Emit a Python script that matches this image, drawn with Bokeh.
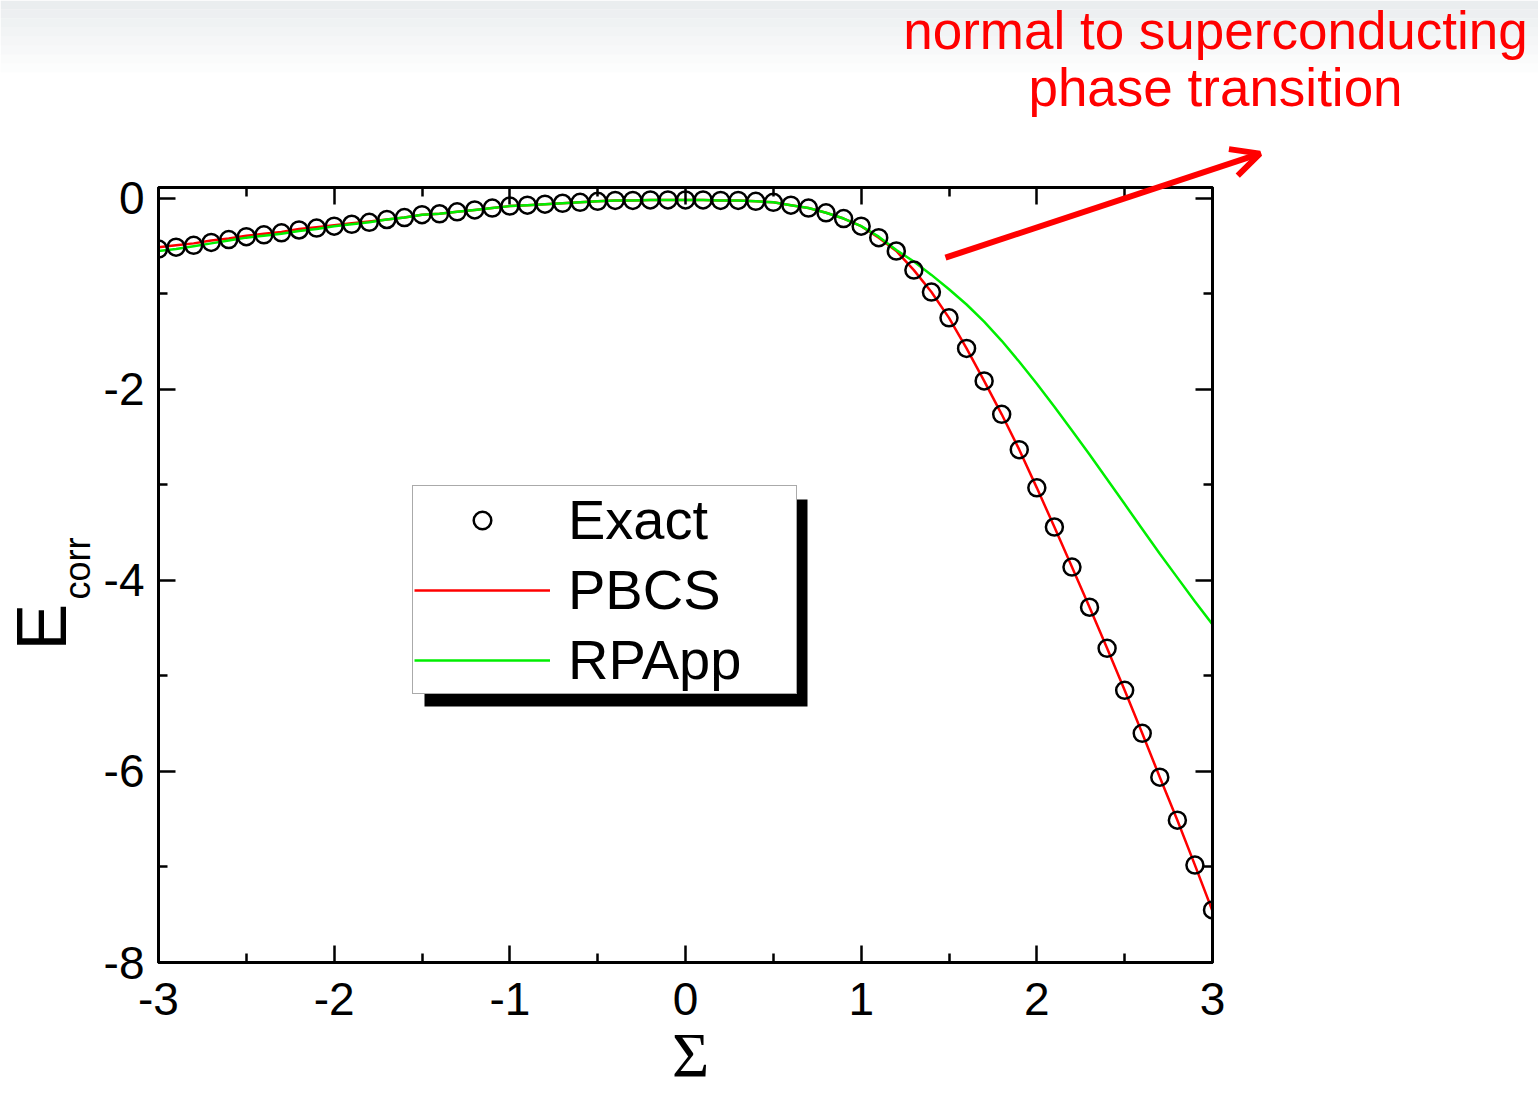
import math

from bokeh.embed import file_html
from bokeh.models import (Arrow, BoxAnnotation, Column, FixedTicker, Label,
                          Legend, LegendItem, LinearAxis, OpenHead, Range1d,
                          Row)
from bokeh.plotting import figure
from bokeh.resources import INLINE

# coupling strength Sigma
sigma = [-3.0, -2.9, -2.8, -2.7, -2.6, -2.5, -2.4, -2.3, -2.2, -2.1,
         -2.0, -1.9, -1.8, -1.7, -1.6, -1.5, -1.4, -1.3, -1.2, -1.1,
         -1.0, -0.9, -0.8, -0.7, -0.6, -0.5, -0.4, -0.3, -0.2, -0.1,
         0.0, 0.1, 0.2, 0.3, 0.4, 0.5, 0.6, 0.7, 0.8, 0.9,
         1.0, 1.1, 1.2, 1.3, 1.4, 1.5, 1.6, 1.7, 1.8, 1.9,
         2.0, 2.1, 2.2, 2.3, 2.4, 2.5, 2.6, 2.7, 2.8, 2.9, 3.0]

# correlation energy: exact solution
e_exact = [-0.53, -0.51, -0.49, -0.46, -0.43, -0.40, -0.38, -0.36, -0.33, -0.31,
           -0.29, -0.27, -0.25, -0.22, -0.20, -0.17, -0.16, -0.14, -0.12, -0.10,
           -0.08, -0.07, -0.06, -0.05, -0.04, -0.03, -0.02, -0.02, -0.015, -0.015,
           -0.015, -0.015, -0.02, -0.02, -0.03, -0.04, -0.07, -0.10, -0.15, -0.21,
           -0.29, -0.41, -0.55, -0.75, -0.98, -1.25, -1.57, -1.91, -2.26, -2.63,
           -3.03, -3.44, -3.86, -4.28, -4.71, -5.15, -5.60, -6.06, -6.51, -6.98, -7.45]

# projected BCS
e_pbcs = [-0.51, -0.49, -0.47, -0.44, -0.42, -0.39, -0.37, -0.35, -0.32, -0.30,
          -0.28, -0.26, -0.24, -0.22, -0.20, -0.17, -0.16, -0.14, -0.12, -0.10,
          -0.08, -0.07, -0.06, -0.05, -0.04, -0.03, -0.02, -0.02, -0.015, -0.015,
          -0.015, -0.015, -0.02, -0.02, -0.03, -0.04, -0.07, -0.10, -0.15, -0.21,
          -0.29, -0.41, -0.55, -0.75, -0.98, -1.25, -1.57, -1.91, -2.26, -2.63,
          -3.03, -3.44, -3.86, -4.28, -4.71, -5.15, -5.60, -6.06, -6.51, -6.98, -7.46]

# particle-particle RPA
e_rpapp = [-0.55, -0.53, -0.50, -0.47, -0.44, -0.41, -0.39, -0.37, -0.34, -0.32,
           -0.29, -0.27, -0.25, -0.22, -0.20, -0.17, -0.16, -0.14, -0.12, -0.10,
           -0.08, -0.07, -0.06, -0.05, -0.04, -0.03, -0.02, -0.02, -0.015, -0.015,
           -0.015, -0.015, -0.02, -0.02, -0.03, -0.04, -0.07, -0.10, -0.15, -0.21,
           -0.29, -0.40, -0.54, -0.66, -0.80, -0.95, -1.11, -1.29, -1.49, -1.71,
           -1.94, -2.18, -2.43, -2.68, -2.94, -3.20, -3.46, -3.72, -3.97, -4.22, -4.46]

x_major = [-3, -2, -1, 0, 1, 2, 3]
x_minor = [-2.5, -1.5, -0.5, 0.5, 1.5, 2.5]
y_major = [-8, -6, -4, -2, 0]
y_minor = [-7, -5, -3, -1]

FONT = "Liberation Sans"
W, H = 1538, 1096
BORDER_L, BORDER_R, BORDER_T, BORDER_B = 158, 326, 187, 134
X0, X1 = -3, 3
Y0, Y1 = -8, 0.115

p = figure(width=W, height=H,
           x_range=Range1d(X0, X1), y_range=Range1d(Y0, Y1),
           output_backend="svg", toolbar_location=None,
           min_border_left=BORDER_L, min_border_right=BORDER_R,
           min_border_top=BORDER_T, min_border_bottom=BORDER_B,
           background_fill_color="white", border_fill_color="white")
p.grid.visible = False
p.outline_line_color = "black"
p.outline_line_width = 3

# mirrored axes on top and right (ticks only)
p.add_layout(LinearAxis(), "above")
p.add_layout(LinearAxis(), "right")

for ax in p.xaxis:
    ax.ticker = FixedTicker(ticks=x_major, minor_ticks=x_minor)
    ax.major_label_overrides = {t: str(t) for t in x_major}
for ax in p.yaxis:
    ax.ticker = FixedTicker(ticks=y_major, minor_ticks=y_minor)
    ax.major_label_overrides = {t: str(t) for t in y_major}

for ax in p.axis:
    ax.axis_line_color = "black"
    ax.axis_line_width = 3
    ax.major_tick_in = 17
    ax.major_tick_out = 0
    ax.minor_tick_in = 9
    ax.minor_tick_out = 0
    ax.major_tick_line_width = 2.5
    ax.minor_tick_line_width = 2.5
    ax.major_tick_line_color = "black"
    ax.minor_tick_line_color = "black"
    ax.major_label_text_font = FONT
    ax.major_label_text_font_size = "46px"
    ax.major_label_text_color = "black"

for ax in (p.above[0], p.right[0]):
    ax.major_label_text_font_size = "0px"
    ax.major_label_text_color = None
p.below[0].major_label_standoff = 20
p.left[0].major_label_standoff = 14

r_pbcs = p.line(sigma, e_pbcs, line_color="#ff0000", line_width=2.5)
r_rpa = p.line(sigma, e_rpapp, line_color="#00ee00", line_width=2.5)
r_exact = p.scatter(sigma, e_exact, marker="circle", size=17,
                    fill_color=None, line_color="black", line_width=2.5)

# legend with drop shadow
p.add_layout(BoxAnnotation(left=266, right=649, bottom=256, top=463,
                           left_units="screen", right_units="screen",
                           top_units="screen", bottom_units="screen",
                           fill_color="black", fill_alpha=1, line_color=None))

legend = Legend(items=[LegendItem(label="Exact", renderers=[r_exact]),
                       LegendItem(label="PBCS", renderers=[r_pbcs]),
                       LegendItem(label="RPApp", renderers=[r_rpa])],
                location=(254, 268),
                label_text_font=FONT, label_text_font_size="56px",
                label_text_color="black",
                glyph_width=136, glyph_height=44,
                label_standoff=18, label_width=227,
                padding=1, spacing=5, margin=0,
                border_line_color="#555555", border_line_width=1.5,
                background_fill_color="white", background_fill_alpha=1)
p.add_layout(legend, "center")

# transparent layer over the whole page, sharing the data coordinates of
# the main frame, for the titles and the annotation outside the frame
kx = (W - BORDER_L - BORDER_R) / (X1 - X0)
ky = (H - BORDER_T - BORDER_B) / (Y1 - Y0)
over = figure(width=W, height=H,
              x_range=Range1d(X0 - BORDER_L / kx, X1 + BORDER_R / kx),
              y_range=Range1d(Y0 - BORDER_B / ky, Y1 + BORDER_T / ky),
              output_backend="svg", toolbar_location=None,
              x_axis_location=None, y_axis_location=None, min_border=0,
              background_fill_color=None, border_fill_color=None,
              outline_line_color=None)
over.grid.visible = False

# light slide shading along the top edge
for k in range(8):
    over.add_layout(BoxAnnotation(left=0, right=W,
                                  top=H - 9 * k, bottom=H - 9 * (k + 1),
                                  left_units="screen", right_units="screen",
                                  top_units="screen", bottom_units="screen",
                                  fill_color="#e8ebed",
                                  fill_alpha=0.9 * (1 - k / 8),
                                  line_color=None))

# axis titles
over.add_layout(Label(x=41, y=H - 650, x_units="screen", y_units="screen",
                      text="E", angle=math.pi / 2, text_font=FONT,
                      text_font_size="70px", text_align="left",
                      text_baseline="alphabetic", text_color="black"))
over.add_layout(Label(x=77, y=H - 599, x_units="screen", y_units="screen",
                      text="corr", angle=math.pi / 2, text_font=FONT,
                      text_font_size="36px", text_align="left",
                      text_baseline="alphabetic", text_color="black"))
over.add_layout(Label(x=690, y=H - 1055, x_units="screen", y_units="screen",
                      text="\u03a3", text_font="Liberation Serif",
                      text_font_size="64px", text_align="center",
                      text_baseline="alphabetic", text_color="black"))

# annotation of the transition
over.add_layout(Label(x=1215, y=H - 30, x_units="screen", y_units="screen",
                      text="normal to superconducting", text_font=FONT,
                      text_font_size="53px", text_align="center",
                      text_baseline="alphabetic", text_color="#ff0000"))
over.add_layout(Label(x=1215, y=H - 87, x_units="screen", y_units="screen",
                      text="phase transition", text_font=FONT,
                      text_font_size="53px", text_align="center",
                      text_baseline="alphabetic", text_color="#ff0000"))
over.add_layout(Arrow(x_start=1.48, y_start=-0.62, x_end=3.27, y_end=0.47,
                      line_color="#ff0000", line_width=6,
                      end=OpenHead(size=28, line_color="#ff0000", line_width=6)))

# the overlay sits in its own container so that its frame is laid out
# independently of the main plot
layer = Row(children=[over], margin=(-H, 0, 0, 0))
page = Column(children=[p, layer], spacing=0)
open("out.html", "w").write(file_html(page, INLINE))
